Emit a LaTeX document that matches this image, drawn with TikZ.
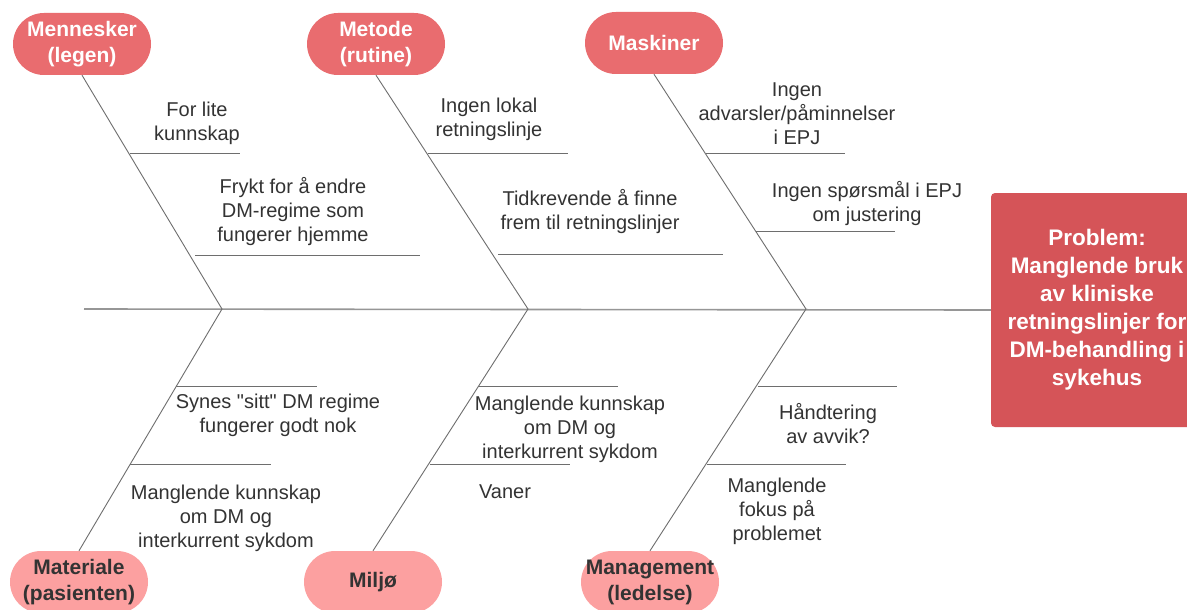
\documentclass[tikz,border=0pt]{standalone}
\usepackage{fontspec}
\setmainfont{Liberation Sans}[Ligatures=TeXOff]
\definecolor{toppink}{RGB}{233,108,111}
\definecolor{botpink}{RGB}{252,160,160}
\definecolor{probred}{RGB}{213,84,88}
\definecolor{linegray}{RGB}{110,110,110}
\definecolor{spinegray}{RGB}{150,150,150}
\definecolor{txt}{RGB}{51,51,51}
\begin{document}
\begin{tikzpicture}[x=1pt,y=-1pt,
  pill/.style={rectangle,rounded corners=31pt,minimum width=138pt,minimum height=62pt,inner sep=0pt,align=center,font=\fontsize{21}{26}\selectfont\bfseries},
  toppill/.style={pill,fill=toppink,text=white},
  botpill/.style={pill,fill=botpink,text=txt},
  bone/.style={draw=linegray,line width=0.9pt},
  spine/.style={draw=spinegray,line width=1.6pt},
  cause/.style={align=center,text=txt,inner sep=0pt,yshift=-2.5pt,font=\fontsize{20}{24}\selectfont}]
\clip (0,0) rectangle (1187,610);
\fill[white] (0,0) rectangle (1187,610);

% problem box
\node[fill=probred,rounded corners=4pt,minimum width=212pt,minimum height=234pt,inner sep=0pt,
      text=white,align=center,font=\fontsize{22.5}{28}\selectfont\bfseries]
  (prob) at (1097,310) {Problem:\\Manglende bruk\\av kliniske\\retningslinjer for\\DM-behandling i\\sykehus};

% category pills
\node[toppill] (men) at (82,44) {Mennesker\\(legen)};
\node[toppill] (met) at (376,44) {Metode\\(rutine)};
\node[toppill] (mas) at (654,43) {Maskiner};
\node[botpill] (mat) at (79,582) {Materiale\\(pasienten)};
\node[botpill] (mil) at (373,582) {Miljø};
\node[botpill] (man) at (650,582) {Management\\(ledelse)};

% spine
\coordinate (tail) at (84,309);
\coordinate (j1) at (222,309);
\coordinate (j2) at (528,309);
\coordinate (j3) at (806,309);
\draw[spine] (tail) -- (prob.west);

% main bones
\draw[bone] (men.south) -- (j1) -- (mat.north);
\draw[bone] (met.south) -- (j2) -- (mil.north);
\draw[bone] (mas.south) -- (j3) -- (man.north);

% sub bones
\foreach \n/\xa/\xb/\y in {a/130/240/153, b/195/420/255, c/428/568/153, d/498/723/254,
  e/706/845/153, f/756/895/231, g/176/317/386, h/130/271/464, i/478/618/386,
  k/430/570/464, l/758/897/386, m/707/846/464}{
  \coordinate (\n0) at (\xa,\y);
  \coordinate (\n1) at (\xb,\y);
  \draw[bone] (\n0) -- (\n1);
}

% causes
\node[cause] (ca) at (197,121) {For lite\\kunnskap};
\node[cause] (cb) at (293,209) {Frykt for å endre\\DM-regime som\\fungerer hjemme};
\node[cause] (cc) at (489,117) {Ingen lokal\\retningslinje};
\node[cause] (cd) at (590,209) {Tidkrevende å finne\\frem til retningslinjer};
\node[cause] (ce) at (797,111) {Ingen\\advarsler/påminnelser\\i EPJ};
\node[cause] (cf) at (867,201) {Ingen spørsmål i EPJ\\om justering};
\node[cause] (cg) at (278,413) {Synes "sitt" DM regime\\fungerer godt nok};
\node[cause] (ch) at (226,516) {Manglende kunnskap\\om DM og\\interkurrent sykdom};
\node[cause] (ci) at (570,427) {Manglende kunnskap\\om DM og\\interkurrent sykdom};
\node[cause] (ck) at (505,489) {Vaner};
\node[cause] (cl) at (828,421) {Håndtering\\av avvik?};
\node[cause] (cm) at (777,509) {Manglende\\fokus på\\problemet};
\end{tikzpicture}
\end{document}
